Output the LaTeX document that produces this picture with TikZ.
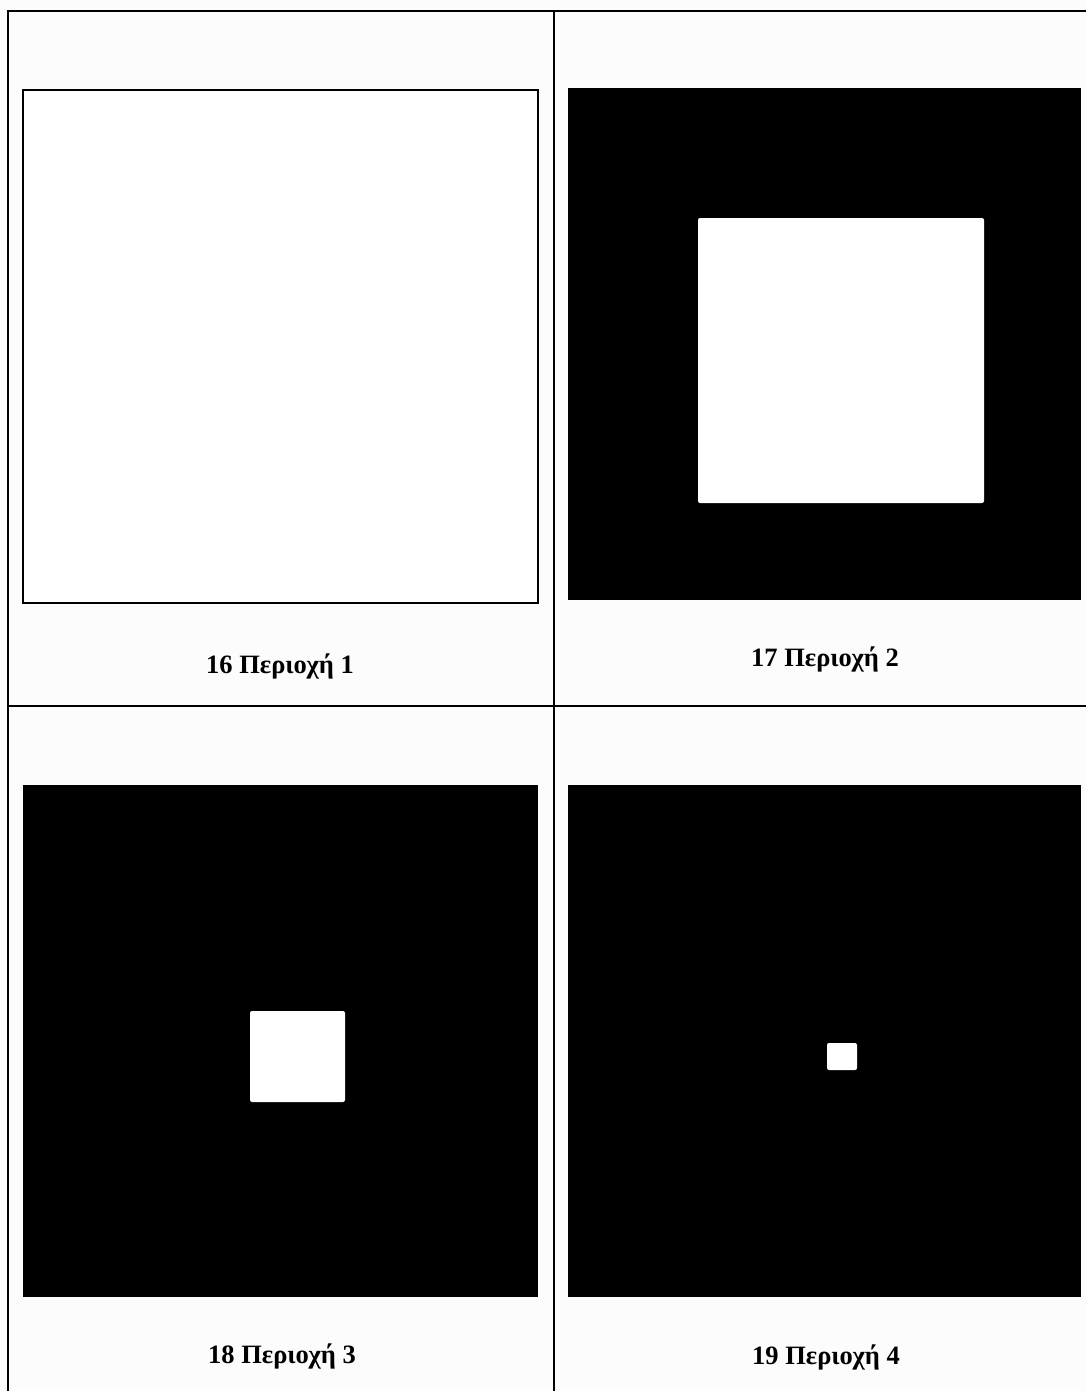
\documentclass[tikz,border=0pt]{standalone}
\usepackage{fontspec}
\setmainfont{Liberation Serif}
\begin{document}
\begin{tikzpicture}[x=1pt,y=-1pt,
  gridline/.style={line width=2.2pt,black},
  blackpanel/.style={fill=black},
  hole/.style={fill=white,rounded corners=2pt},
  caption/.style={font=\bfseries\fontsize{26.5}{30}\selectfont,inner sep=0pt,anchor=center}]
\fill[fill={rgb,255:red,252;green,252;blue,252}] (0,0) rectangle (1086,1391);
\useasboundingbox (0,0) rectangle (1086,1391);
% table lines
\draw[gridline] (8,1391) -- (8,11) -- (1086,11);
\draw[gridline] (554,11) -- (554,1391);
\draw[gridline] (8,706) -- (1086,706);
% panel 1
\draw[line width=2pt,fill=white] (23,90) rectangle (538,603);
% panel 2
\fill[blackpanel] (568,88) rectangle (1081,600);
\fill[hole] (698,218) rectangle (984,503);
% panel 3
\fill[blackpanel] (23,785) rectangle (538,1297);
\fill[hole] (250,1011) rectangle (345,1102);
% panel 4
\fill[blackpanel] (568,785) rectangle (1081,1297);
\fill[hole] (827,1043) rectangle (857,1070);
% captions
\node[caption] (c1) at (280,666) {16 Περιοχή 1};
\node[caption] (c2) at (825,659) {17 Περιοχή 2};
\node[caption] (c3) at (282,1356) {18 Περιοχή 3};
\node[caption] (c4) at (826,1357) {19 Περιοχή 4};
\end{tikzpicture}
\end{document}
